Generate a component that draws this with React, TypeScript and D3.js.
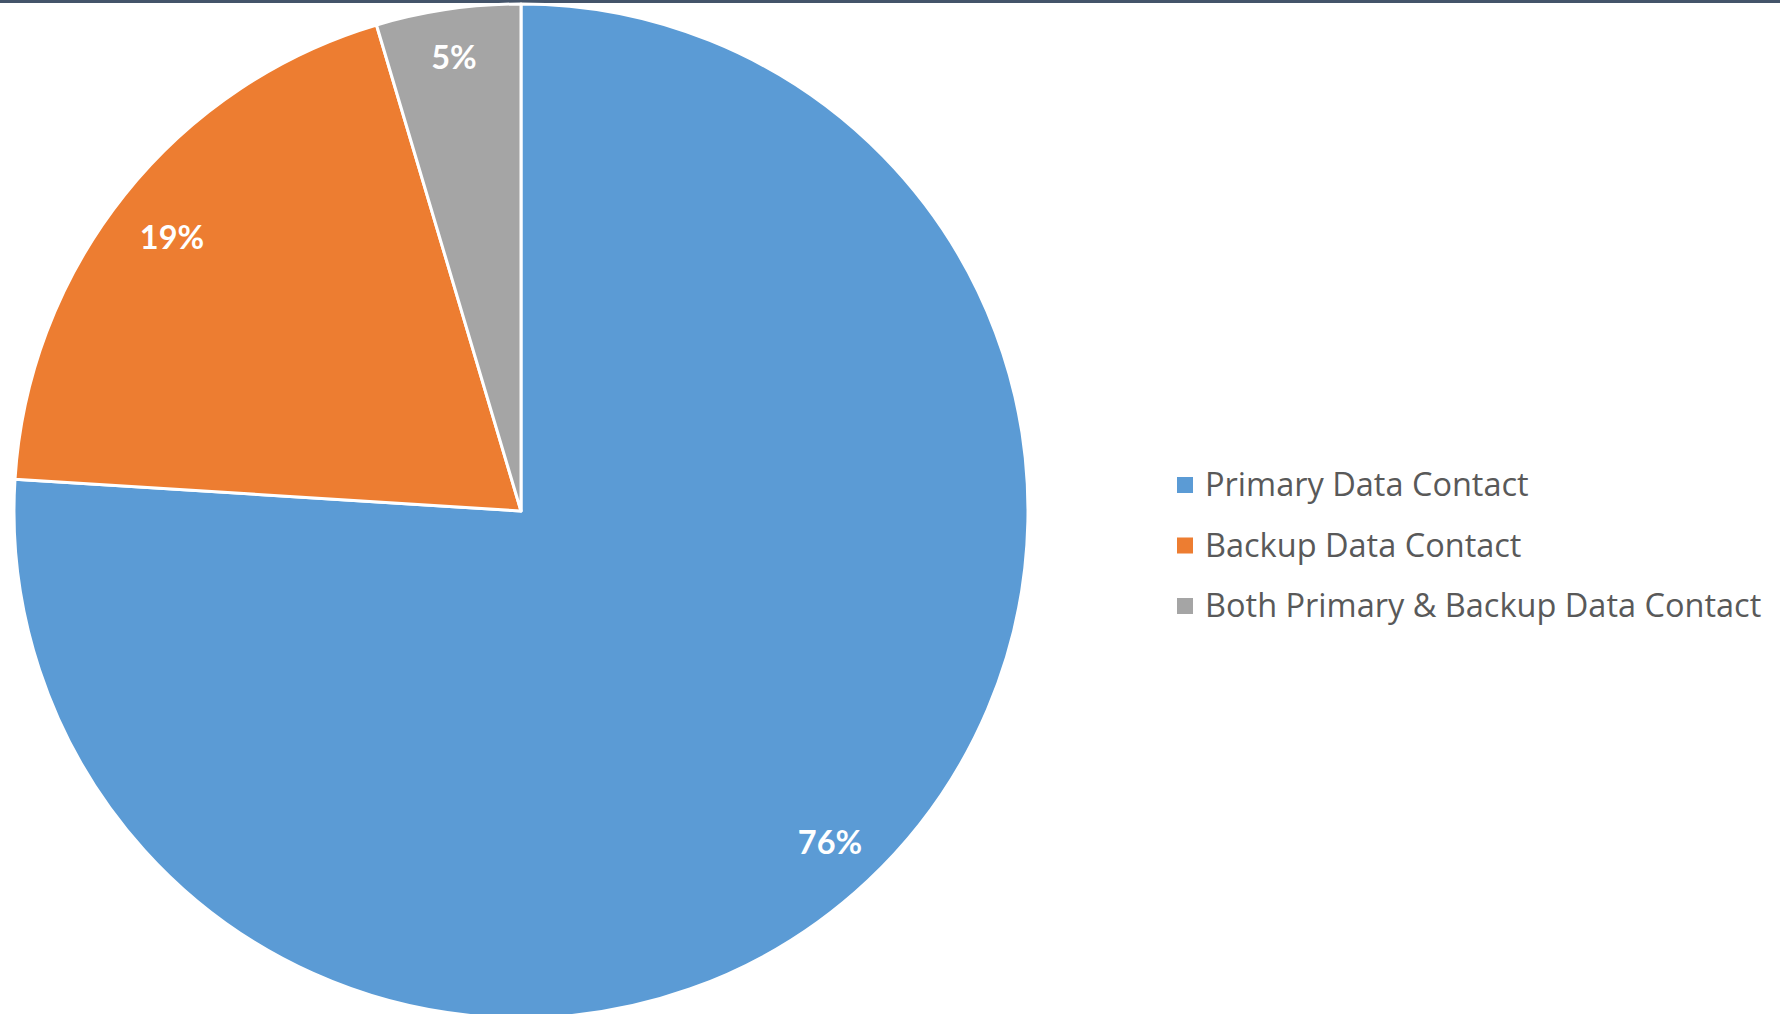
import React from "react";
import * as d3 from "d3";

const categories = ["Primary Data Contact", "Backup Data Contact", "Both Primary & Backup Data Contact"];
const values = [76, 19.4, 4.6];
const labels = ["76%", "19%", "5%"];
const colors = ["#5B9BD5", "#ED7D31", "#A5A5A5"];

export default function App() {
  const W = 1780, H = 1014;
  const cx = 521, cy = 511, r = 507;
  const pie = d3.pie<number>().sort(null).value((d) => d)(values);
  const arc = d3.arc<d3.PieArcDatum<number>>().innerRadius(0).outerRadius(r);
  const labelPos: [number, number][] = pie.map((p, i) => {
    if (i === 0) return [309, 330];
    if (i === 1) return [-349, -275];
    return [-67, -455];
  });
  const legendY = d3.scalePoint<string>().domain(categories).range([485, 606]);
  return (
    <svg width={W} height={H} style={{ position: "absolute", left: 0, top: 0, background: "#fff" }}>
      <rect x={0} y={0} width={W} height={3} fill="#44546A" />
      <g transform={`translate(${cx},${cy})`}>
        {pie.map((p, i) => (
          <path key={i} d={arc(p) || ""} fill={colors[i]} stroke="#fff" strokeWidth={3} strokeLinejoin="round" />
        ))}
        {pie.map((p, i) => (
          <text
            key={"l" + i}
            x={labelPos[i][0]}
            y={labelPos[i][1]}
            textAnchor="middle"
            dominantBaseline="central"
            fill="#fff"
            fontFamily="Lato, 'Open Sans', sans-serif"
            fontWeight="bold"
            fontSize={32.5}
          >
            {labels[i]}
          </text>
        ))}
      </g>
      <g>
        {categories.map((c, i) => (
          <g key={c} transform={`translate(1177,${legendY(c)})`}>
            <rect x={0} y={-8} width={16} height={16} fill={colors[i]} />
            <text
              x={28}
              y={11}
              fill="#595959"
              fontFamily="'Open Sans', sans-serif"
              fontSize={32.5}
            >
              {c}
            </text>
          </g>
        ))}
      </g>
    </svg>
  );
}
